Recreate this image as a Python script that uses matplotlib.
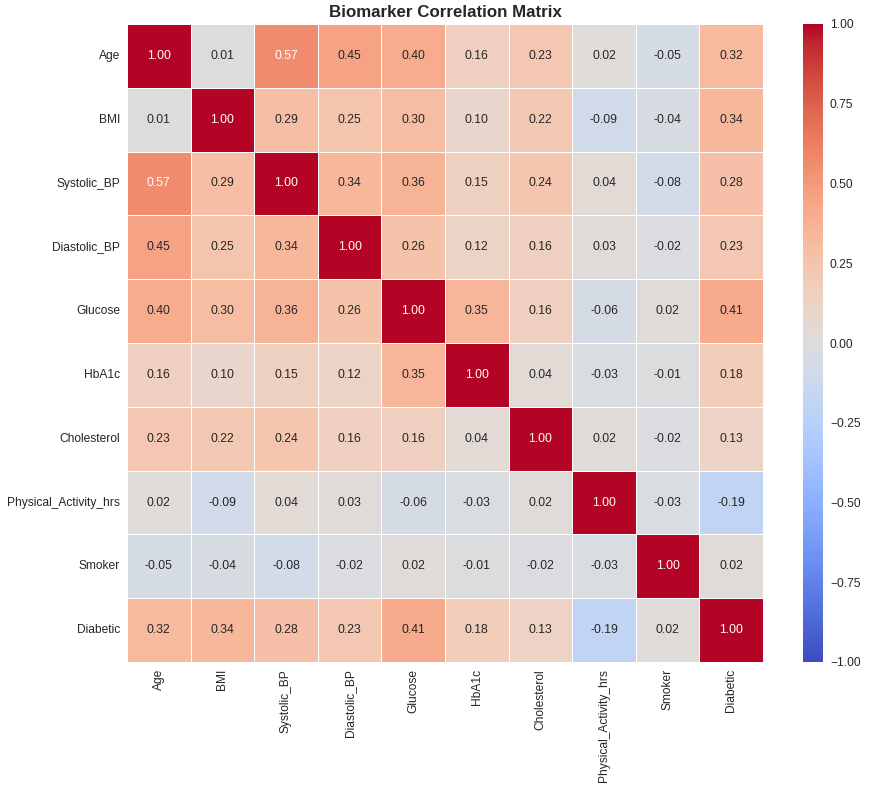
import matplotlib
matplotlib.use('Agg')
import matplotlib.pyplot as plt
import seaborn as sns
import pandas as pd

labels = ['Age', 'BMI', 'Systolic_BP', 'Diastolic_BP', 'Glucose', 'HbA1c',
          'Cholesterol', 'Physical_Activity_hrs', 'Smoker', 'Diabetic']

age = [1.00, 0.01, 0.57, 0.45, 0.40, 0.16, 0.23, 0.02, -0.05, 0.32]
bmi = [0.01, 1.00, 0.29, 0.25, 0.30, 0.10, 0.22, -0.09, -0.04, 0.34]
systolic = [0.57, 0.29, 1.00, 0.34, 0.36, 0.15, 0.24, 0.04, -0.08, 0.28]
diastolic = [0.45, 0.25, 0.34, 1.00, 0.26, 0.12, 0.16, 0.03, -0.02, 0.23]
glucose = [0.40, 0.30, 0.36, 0.26, 1.00, 0.35, 0.16, -0.06, 0.02, 0.41]
hba1c = [0.16, 0.10, 0.15, 0.12, 0.35, 1.00, 0.04, -0.03, -0.01, 0.18]
cholesterol = [0.23, 0.22, 0.24, 0.16, 0.16, 0.04, 1.00, 0.02, -0.02, 0.13]
activity = [0.02, -0.09, 0.04, 0.03, -0.06, -0.03, 0.02, 1.00, -0.03, -0.19]
smoker = [-0.05, -0.04, -0.08, -0.02, 0.02, -0.01, -0.02, -0.03, 1.00, 0.02]
diabetic = [0.32, 0.34, 0.28, 0.23, 0.41, 0.18, 0.13, -0.19, 0.02, 1.00]

corr = pd.DataFrame([age, bmi, systolic, diastolic, glucose, hba1c,
                     cholesterol, activity, smoker, diabetic],
                    index=labels, columns=labels)

sns.set_style('whitegrid')
plt.rcParams['font.family'] = ['Liberation Sans', 'DejaVu Sans']

fig = plt.figure(figsize=(8.77, 7.88), dpi=100)
W, H = 877, 788
ax = fig.add_axes([127 / W, (H - 662) / H, 636 / W, 638 / H])
cax = fig.add_axes([803 / W, (H - 662) / H, 20 / W, 638 / H])

sns.heatmap(corr, ax=ax, cbar_ax=cax, cmap='coolwarm', vmin=-1, vmax=1,
            center=0, annot=True, fmt='.2f', linewidths=0.5,
            annot_kws={'size': 8.7})

ax.set_title('Biomarker Correlation Matrix', fontsize=12.2, fontweight='bold', pad=5)
ax.tick_params(axis='both', labelsize=8.65, length=0, pad=5)
ax.set_xticklabels(labels, rotation=90)
ax.set_yticklabels(labels, rotation=0)
cax.tick_params(labelsize=8.65, length=0, pad=5)

fig.savefig('out.png', dpi=100)
